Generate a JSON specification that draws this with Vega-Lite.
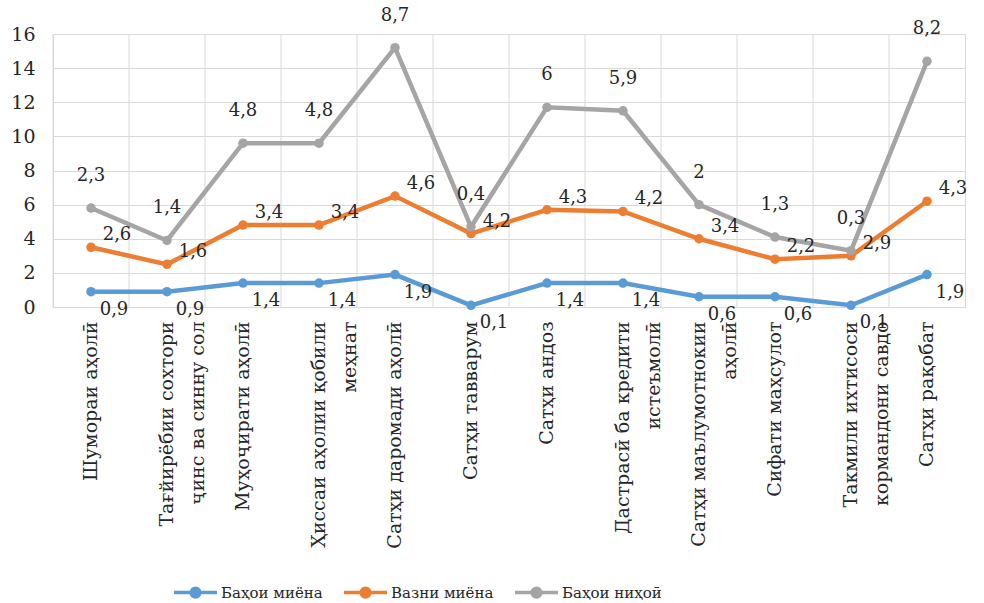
{
  "$schema": "https://vega.github.io/schema/vega-lite/v6.json",
  "width": 912,
  "height": 273,
  "autosize": {"type": "none"},
  "padding": {"left": 53, "top": 34, "right": 19, "bottom": 296},
  "background": "white",
  "config": {
    "font": "DejaVu Serif",
    "locale": {"number": {"decimal": ",", "thousands": " ", "grouping": [3], "currency": ["", ""]}},
    "view": {"stroke": "#d9d9d9", "strokeWidth": 1}
  },
  "datasets": {
    "scores": [
      {"i": 1, "cat": "Шумораи аҳолӣ", "k": 1, "s": "Баҳои миёна", "v": 0.9},
      {"i": 1, "cat": "Шумораи аҳолӣ", "k": 2, "s": "Вазни миёна", "v": 2.6},
      {"i": 1, "cat": "Шумораи аҳолӣ", "k": 3, "s": "Баҳои ниҳоӣ", "v": 2.3},
      {"i": 2, "cat": "Тағйирёбии сохтори|ҷинс ва синну сол", "k": 1, "s": "Баҳои миёна", "v": 0.9},
      {"i": 2, "cat": "Тағйирёбии сохтори|ҷинс ва синну сол", "k": 2, "s": "Вазни миёна", "v": 1.6},
      {"i": 2, "cat": "Тағйирёбии сохтори|ҷинс ва синну сол", "k": 3, "s": "Баҳои ниҳоӣ", "v": 1.4},
      {"i": 3, "cat": "Муҳоҷирати аҳолӣ", "k": 1, "s": "Баҳои миёна", "v": 1.4},
      {"i": 3, "cat": "Муҳоҷирати аҳолӣ", "k": 2, "s": "Вазни миёна", "v": 3.4},
      {"i": 3, "cat": "Муҳоҷирати аҳолӣ", "k": 3, "s": "Баҳои ниҳоӣ", "v": 4.8},
      {"i": 4, "cat": "Ҳиссаи аҳолии қобили|меҳнат", "k": 1, "s": "Баҳои миёна", "v": 1.4},
      {"i": 4, "cat": "Ҳиссаи аҳолии қобили|меҳнат", "k": 2, "s": "Вазни миёна", "v": 3.4},
      {"i": 4, "cat": "Ҳиссаи аҳолии қобили|меҳнат", "k": 3, "s": "Баҳои ниҳоӣ", "v": 4.8},
      {"i": 5, "cat": "Сатҳи даромади аҳолӣ", "k": 1, "s": "Баҳои миёна", "v": 1.9},
      {"i": 5, "cat": "Сатҳи даромади аҳолӣ", "k": 2, "s": "Вазни миёна", "v": 4.6},
      {"i": 5, "cat": "Сатҳи даромади аҳолӣ", "k": 3, "s": "Баҳои ниҳоӣ", "v": 8.7},
      {"i": 6, "cat": "Сатҳи тавварум", "k": 1, "s": "Баҳои миёна", "v": 0.1},
      {"i": 6, "cat": "Сатҳи тавварум", "k": 2, "s": "Вазни миёна", "v": 4.2},
      {"i": 6, "cat": "Сатҳи тавварум", "k": 3, "s": "Баҳои ниҳоӣ", "v": 0.4},
      {"i": 7, "cat": "Сатҳи андоз", "k": 1, "s": "Баҳои миёна", "v": 1.4},
      {"i": 7, "cat": "Сатҳи андоз", "k": 2, "s": "Вазни миёна", "v": 4.3},
      {"i": 7, "cat": "Сатҳи андоз", "k": 3, "s": "Баҳои ниҳоӣ", "v": 6},
      {"i": 8, "cat": "Дастрасӣ ба кредити|истеъмолӣ", "k": 1, "s": "Баҳои миёна", "v": 1.4},
      {"i": 8, "cat": "Дастрасӣ ба кредити|истеъмолӣ", "k": 2, "s": "Вазни миёна", "v": 4.2},
      {"i": 8, "cat": "Дастрасӣ ба кредити|истеъмолӣ", "k": 3, "s": "Баҳои ниҳоӣ", "v": 5.9},
      {"i": 9, "cat": "Сатҳи маълумотнокии|аҳолӣ", "k": 1, "s": "Баҳои миёна", "v": 0.6},
      {"i": 9, "cat": "Сатҳи маълумотнокии|аҳолӣ", "k": 2, "s": "Вазни миёна", "v": 3.4},
      {"i": 9, "cat": "Сатҳи маълумотнокии|аҳолӣ", "k": 3, "s": "Баҳои ниҳоӣ", "v": 2},
      {"i": 10, "cat": "Сифати маҳсулот", "k": 1, "s": "Баҳои миёна", "v": 0.6},
      {"i": 10, "cat": "Сифати маҳсулот", "k": 2, "s": "Вазни миёна", "v": 2.2},
      {"i": 10, "cat": "Сифати маҳсулот", "k": 3, "s": "Баҳои ниҳоӣ", "v": 1.3},
      {"i": 11, "cat": "Такмили ихтисоси|кормандони  савдо", "k": 1, "s": "Баҳои миёна", "v": 0.1},
      {"i": 11, "cat": "Такмили ихтисоси|кормандони  савдо", "k": 2, "s": "Вазни миёна", "v": 2.9},
      {"i": 11, "cat": "Такмили ихтисоси|кормандони  савдо", "k": 3, "s": "Баҳои ниҳоӣ", "v": 0.3},
      {"i": 12, "cat": "Сатҳи рақобат", "k": 1, "s": "Баҳои миёна", "v": 1.9},
      {"i": 12, "cat": "Сатҳи рақобат", "k": 2, "s": "Вазни миёна", "v": 4.3},
      {"i": 12, "cat": "Сатҳи рақобат", "k": 3, "s": "Баҳои ниҳоӣ", "v": 8.2}
    ],
    "cats": [
      {"i": 1, "cat": "Шумораи аҳолӣ"},
      {"i": 2, "cat": "Тағйирёбии сохтори|ҷинс ва синну сол"},
      {"i": 3, "cat": "Муҳоҷирати аҳолӣ"},
      {"i": 4, "cat": "Ҳиссаи аҳолии қобили|меҳнат"},
      {"i": 5, "cat": "Сатҳи даромади аҳолӣ"},
      {"i": 6, "cat": "Сатҳи тавварум"},
      {"i": 7, "cat": "Сатҳи андоз"},
      {"i": 8, "cat": "Дастрасӣ ба кредити|истеъмолӣ"},
      {"i": 9, "cat": "Сатҳи маълумотнокии|аҳолӣ"},
      {"i": 10, "cat": "Сифати маҳсулот"},
      {"i": 11, "cat": "Такмили ихтисоси|кормандони  савдо"},
      {"i": 12, "cat": "Сатҳи рақобат"}
    ]
  },
  "encoding": {
    "x": {
      "field": "cat",
      "type": "nominal",
      "sort": {"field": "i", "op": "min"},
      "scale": {"type": "band", "paddingInner": 0, "paddingOuter": 0},
      "axis": {
        "title": null,
        "grid": false,
        "domain": true,
        "domainColor": "#d9d9d9",
        "ticks": false,
        "labelAngle": -90,
        "labelAlign": "right",
        "labelBaseline": "middle",
        "labelPadding": 14,
        "labelFontSize": 19,
        "labelLineHeight": 31,
        "labelLimit": 400,
        "labelOverlap": false,
        "labelColor": "#262626",
        "labelExpr": "split(datum.label, '|')"
      }
    }
  },
  "layer": [
    {
      "data": {"name": "cats"},
      "mark": {"type": "rule", "color": "#d9d9d9", "strokeWidth": 1},
      "encoding": {
        "x": {"field": "cat", "type": "nominal", "sort": {"field": "i", "op": "min"}, "bandPosition": 0},
        "y": {"value": 0},
        "y2": {"value": 273}
      }
    },
    {
      "data": {"name": "scores"},
      "transform": [
        {"stack": "v", "groupby": ["i"], "sort": [{"field": "k"}], "as": ["y0", "y1"]}
      ],
      "encoding": {
        "y": {
          "field": "y1",
          "type": "quantitative",
          "scale": {"domain": [0, 16], "nice": false},
          "axis": {
            "title": null,
            "values": [0, 2, 4, 6, 8, 10, 12, 14, 16],
            "grid": true,
            "gridColor": "#d9d9d9",
            "domain": false,
            "ticks": false,
            "labelFontSize": 19,
            "labelColor": "#262626",
            "labelPadding": 18
          }
        }
      },
      "layer": [
        {
          "mark": {"type": "line", "strokeWidth": 4.5, "point": {"filled": true, "size": 90}},
          "encoding": {
            "order": {"field": "i"},
            "color": {
              "field": "s",
              "type": "nominal",
              "scale": {"domain": ["Баҳои миёна", "Вазни миёна", "Баҳои ниҳоӣ"], "range": ["#5b9bd5", "#ed7d31", "#a5a5a5"]},
              "legend": {
                "title": null,
                "orient": "none",
                "legendX": 119,
                "legendY": 535,
                "direction": "horizontal",
                "padding": 0,
                "symbolType": "M-1,0H1M-0.2,0A0.2,0.2 0 1 1 0.2,0A0.2,0.2 0 1 1 -0.2,0",
                "symbolSize": 1849,
                "symbolStrokeWidth": 3.5,
                "labelFontSize": 15,
                "labelColor": "#262626",
                "labelOffset": 2,
                "columnPadding": 14,
                "encode": {"symbols": {"update": {"fill": {"scale": "color", "field": "value"}}}}
              }
            }
          }
        },
        {
          "transform": [{"filter": "datum.k == 1"}],
          "mark": {"type": "text", "dx": 23, "dy": 18, "fontSize": 18, "color": "#262626"},
          "encoding": {"text": {"field": "v", "type": "quantitative", "format": ".2~r"}}
        },
        {
          "transform": [{"filter": "datum.k == 2"}],
          "mark": {"type": "text", "dx": 26, "dy": -12, "fontSize": 18, "color": "#262626"},
          "encoding": {"text": {"field": "v", "type": "quantitative", "format": ".2~r"}}
        },
        {
          "transform": [{"filter": "datum.k == 3"}],
          "mark": {"type": "text", "dx": 0, "dy": -32, "fontSize": 18, "color": "#262626"},
          "encoding": {"text": {"field": "v", "type": "quantitative", "format": ".2~r"}}
        }
      ]
    }
  ]
}
